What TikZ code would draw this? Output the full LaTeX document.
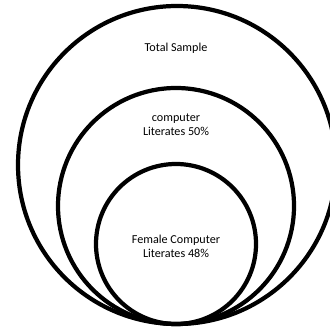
\documentclass[tikz,border=0pt]{standalone}
\usepackage{fontspec}
\setmainfont{Carlito}
\usepackage{tikz}
\usetikzlibrary{positioning}

\begin{document}
\begin{tikzpicture}[
    x=0.0333cm, y=-0.0333cm,
    ring/.style={draw=black, line width=4pt},
    lbl/.style={align=center, inner sep=1pt, font=\fontsize{11.5}{13.5}\selectfont}
]
\useasboundingbox (0,0) rectangle (330,330);

% Nested sets
\draw[ring] (177,165) circle (159);
\draw[ring] (176,206) circle (118);
\draw[ring] (176,244) circle (80);

\node[lbl] (total) at (176,48) {Total Sample};
\node[lbl] (literate) at (176,125) {computer\\Literates 50\%};
\node[lbl] (female) at (176,246) {Female Computer\\Literates 48\%};

\end{tikzpicture}
\end{document}
